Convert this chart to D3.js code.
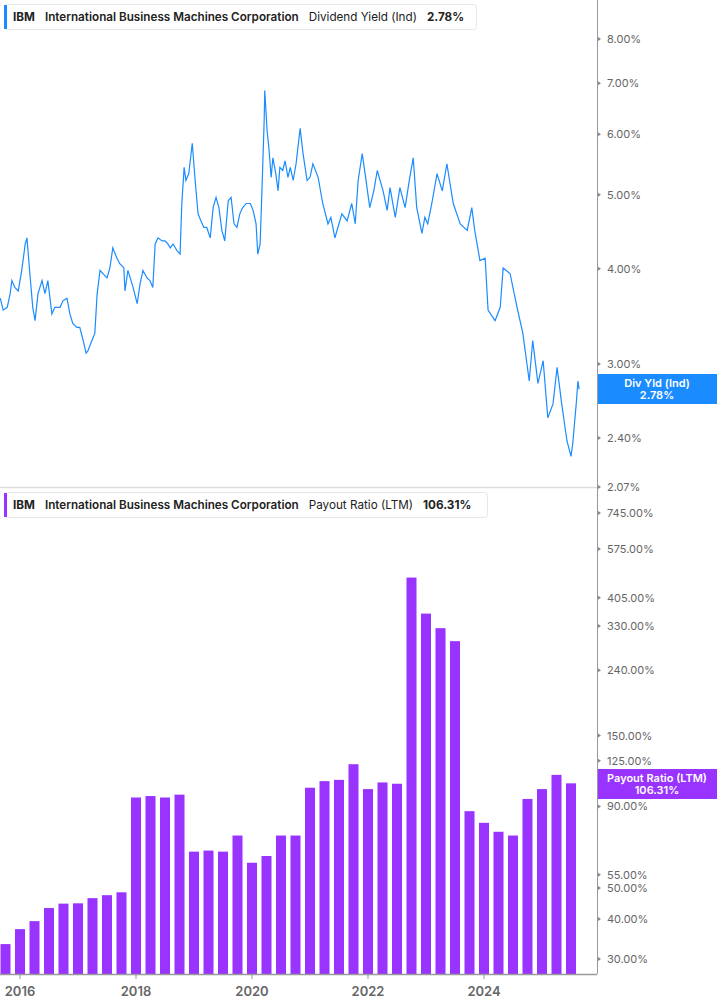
<!DOCTYPE html>
<html>
<head>
<meta charset="utf-8">
<script src="https://cdn.jsdelivr.net/npm/d3@7"></script>
<style>
  body { margin: 0; background: #fff; font-family: Inter, "Noto Sans", sans-serif; }
  svg { display: block; }
</style>
</head>
<body>
<script>
// dividend yield (%), [year, value]
const yieldSeries = [
  [2015.66,3.66],[2015.71,3.53],[2015.78,3.56],[2015.83,3.71],[2015.86,3.86],[2015.91,3.78],[2015.97,3.74],
  [2016.03,3.98],[2016.09,4.31],[2016.12,4.39],[2016.17,3.94],[2016.22,3.56],[2016.26,3.42],[2016.31,3.71],
  [2016.38,3.86],[2016.43,3.71],[2016.48,3.86],[2016.55,3.49],[2016.60,3.56],[2016.69,3.56],[2016.74,3.63],
  [2016.81,3.66],[2016.86,3.49],[2016.91,3.39],[2016.98,3.35],[2017.03,3.35],[2017.09,3.22],[2017.14,3.10],
  [2017.17,3.12],[2017.24,3.22],[2017.29,3.29],[2017.33,3.71],[2017.38,3.98],[2017.43,3.94],[2017.50,3.89],
  [2017.55,4.01],[2017.60,4.26],[2017.67,4.13],[2017.72,4.06],[2017.79,4.01],[2017.81,3.74],[2017.86,3.98],
  [2017.90,3.89],[2017.95,3.78],[2018.02,3.60],[2018.07,3.82],[2018.12,3.98],[2018.19,3.89],[2018.24,3.86],
  [2018.29,3.78],[2018.33,4.31],[2018.38,4.39],[2018.45,4.35],[2018.50,4.35],[2018.55,4.31],[2018.59,4.26],
  [2018.64,4.31],[2018.71,4.22],[2018.76,4.18],[2018.79,4.87],[2018.83,5.43],[2018.86,5.22],[2018.91,5.33],
  [2018.97,5.84],[2019.02,5.22],[2019.07,4.72],[2019.12,4.62],[2019.17,4.53],[2019.22,4.53],[2019.28,4.39],
  [2019.33,4.81],[2019.38,4.96],[2019.43,4.81],[2019.48,4.49],[2019.53,4.35],[2019.59,4.91],[2019.64,4.96],
  [2019.69,4.58],[2019.74,4.53],[2019.79,4.72],[2019.84,4.81],[2019.90,4.87],[2019.97,4.87],[2020.02,4.77],
  [2020.07,4.58],[2020.10,4.18],[2020.14,4.31],[2020.17,5.02],[2020.21,6.26],[2020.22,6.85],[2020.26,6.07],
  [2020.29,5.77],[2020.33,5.27],[2020.36,5.59],[2020.41,5.33],[2020.45,5.06],[2020.48,5.43],[2020.53,5.38],
  [2020.57,5.54],[2020.62,5.27],[2020.66,5.43],[2020.71,5.22],[2020.76,5.49],[2020.83,6.11],[2020.88,5.66],
  [2020.95,5.22],[2021.00,5.27],[2021.05,5.49],[2021.14,5.27],[2021.22,4.87],[2021.31,4.58],[2021.36,4.67],
  [2021.43,4.39],[2021.48,4.53],[2021.55,4.72],[2021.64,4.62],[2021.72,4.87],[2021.78,4.58],[2021.83,5.22],
  [2021.90,5.66],[2021.95,5.33],[2022.03,4.81],[2022.10,5.06],[2022.16,5.38],[2022.26,5.06],[2022.33,4.77],
  [2022.38,5.11],[2022.47,4.67],[2022.55,5.11],[2022.64,4.81],[2022.72,5.27],[2022.78,5.59],[2022.84,4.81],
  [2022.93,4.45],[2022.98,4.67],[2023.03,4.58],[2023.10,4.87],[2023.19,5.33],[2023.28,5.06],[2023.36,5.49],
  [2023.47,4.87],[2023.59,4.58],[2023.71,4.49],[2023.79,4.81],[2023.84,4.49],[2023.93,4.10],[2024.02,4.13],
  [2024.07,3.53],[2024.19,3.42],[2024.28,3.56],[2024.33,4.01],[2024.45,3.94],[2024.57,3.56],[2024.67,3.29],
  [2024.78,2.85],[2024.84,3.22],[2024.93,2.83],[2025.02,3.03],[2025.10,2.55],[2025.19,2.66],[2025.26,2.97],
  [2025.34,2.66],[2025.43,2.38],[2025.50,2.27],[2025.53,2.36],[2025.59,2.66],[2025.62,2.85],[2025.64,2.78]
];

// payout ratio (%), quarterly
const payoutQuarters = d3.range(40).map(i => 2015.75 + i * 0.25);
const payoutValues = [
  33.4, 37.2, 39.4, 43.3, 44.7, 44.8, 46.5, 47.5, 48.5, 96,
  97, 96, 98, 65, 65.5, 65, 73, 60, 63, 73,
  73, 103, 108, 109, 122, 102, 107, 106, 468, 361,
  325, 296, 87, 80, 75, 73, 95, 102, 113, 106.31
];

const yieldTicks = [2.07, 2.4, 3, 4, 5, 6, 7, 8];
const payoutTicks = [30, 40, 50, 55, 90, 125, 150, 240, 330, 405, 575, 745];
const yearTicks = [2016, 2018, 2020, 2022, 2024];

const W = 717, H = 1005, plotR = 597;
const blue = "#1a8cff", purple = "#9933ff";

const svg = d3.select("body").append("svg").attr("width", W).attr("height", H);

const x = d3.scaleLinear().domain([2016, 2026]).range([20, 20 + 580]);
const yTop = d3.scaleLog().domain([2.07, 8]).range([487, 39]);
const yBot = d3.scaleLog().domain([30, 745]).range([959, 513]);
const base = 974;

// right axis line
svg.append("line").attr("x1", plotR + 0.5).attr("x2", plotR + 0.5)
  .attr("y1", 0).attr("y2", base).attr("stroke", "#999");
// panel separator
svg.append("line").attr("x1", 0).attr("x2", plotR).attr("y1", 487.5).attr("y2", 487.5)
  .attr("stroke", "#ddd").attr("stroke-width", 1.5);

function rightAxis(scale, ticks) {
  const g = svg.append("g").attr("transform", `translate(${plotR},0)`);
  ticks.forEach(t => {
    const yy = scale(t);
    g.append("path").attr("d", `M1,${yy - 2}L4,${yy}L1,${yy + 2}Z`).attr("fill", "#888");
    g.append("text").attr("x", 10).attr("y", yy + 4).attr("font-size", 11)
      .attr("fill", "#666").text(t.toFixed(2) + "%");
  });
}
rightAxis(yTop, yieldTicks);
rightAxis(yBot, payoutTicks);

// line
svg.append("path").datum(yieldSeries)
  .attr("fill", "none").attr("stroke", blue).attr("stroke-width", 1.2)
  .attr("d", d3.line().x(d => x(d[0])).y(d => yTop(d[1])));

// bars
svg.selectAll(".bar").data(payoutValues).enter().append("rect")
  .attr("x", (d, i) => x(payoutQuarters[i]) - 5)
  .attr("width", 10)
  .attr("y", d => yBot(d))
  .attr("height", d => base - yBot(d))
  .attr("fill", purple);

// x axis
svg.append("line").attr("x1", 0).attr("x2", plotR).attr("y1", base + 0.5).attr("y2", base + 0.5)
  .attr("stroke", "#999").attr("stroke-width", 1.5);
yearTicks.forEach(t => {
  svg.append("line").attr("x1", x(t)).attr("x2", x(t)).attr("y1", base).attr("y2", base + 5).attr("stroke", "#999");
  svg.append("text").attr("x", x(t)).attr("y", base + 22).attr("text-anchor", "middle")
    .attr("font-size", 13).attr("font-weight", 600).attr("fill", "#666").text(t);
});

// value labels
function valueTag(yy, h, color, l1, l2) {
  svg.append("rect").attr("x", plotR + 1).attr("y", yy).attr("width", W - plotR).attr("height", h).attr("fill", color);
  svg.append("text").attr("x", 657).attr("y", yy + 13).attr("text-anchor", "middle")
    .attr("font-size", 11).attr("font-weight", 600).attr("fill", "#fff").text(l1);
  svg.append("text").attr("x", 657).attr("y", yy + 25).attr("text-anchor", "middle")
    .attr("font-size", 11).attr("font-weight", 600).attr("fill", "#fff").text(l2);
}
valueTag(374, 30, blue, "Div Yld (Ind)", "2.78%");
valueTag(769, 30, purple, "Payout Ratio (LTM)", "106.31%");

// legends
function legend(y0, w, color, metric, val) {
  svg.append("rect").attr("x", 4.5).attr("y", y0 + 0.5).attr("width", w).attr("height", 25).attr("rx", 3)
    .attr("fill", "#fff").attr("stroke", "#e6e6e6");
  svg.append("rect").attr("x", 4).attr("y", y0 + 1).attr("width", 3).attr("height", 24).attr("fill", color);
  const t = svg.append("text").attr("x", 13).attr("y", y0 + 17).attr("font-size", 11.7).attr("fill", "#222");
  t.append("tspan").attr("font-weight", 700).text("IBM");
  t.append("tspan").attr("dx", 10).attr("font-weight", 600).text("International Business Machines Corporation");
  t.append("tspan").attr("dx", 10).attr("font-weight", 400).text(metric);
  t.append("tspan").attr("dx", 10).attr("font-weight", 700).text(val);
}
legend(4, 472, blue, "Dividend Yield (Ind)", "2.78%");
legend(492, 483, purple, "Payout Ratio (LTM)", "106.31%");
</script>
</body>
</html>
